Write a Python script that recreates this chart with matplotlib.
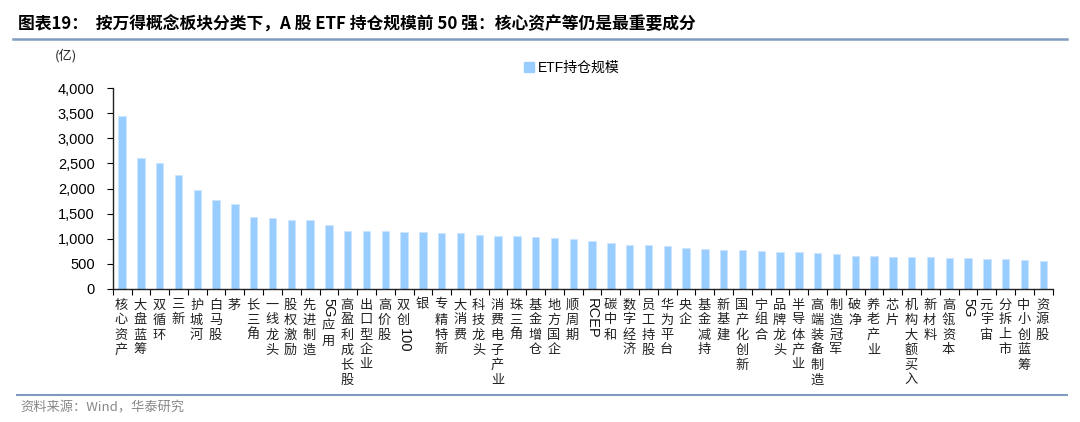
import numpy as np
import matplotlib
matplotlib.use("Agg")
import matplotlib.pyplot as plt
from matplotlib.lines import Line2D
from matplotlib.patches import Patch

plt.rcParams['font.family'] = ['Liberation Sans', 'Noto Sans CJK SC', 'DejaVu Sans']

# data
labels = ["核心资产", "大盘蓝筹", "双循环", "三新", "护城河", "白马股", "茅", "长三角",
          "一线龙头", "股权激励", "先进制造", "5G应用", "高盈利成长股", "出口型企业", "高价股",
          "双创100", "银", "专精特新", "大消费", "科技龙头", "消费电子产业", "珠三角", "基金增仓",
          "地方国企", "顺周期", "RCEP", "碳中和", "数字经济", "员工持股", "华为平台", "央企",
          "基金减持", "新基建", "国产化创新", "宁组合", "品牌龙头", "半导体产业", "高端装备制造",
          "制造冠军", "破净", "养老产业", "芯片", "机构大额买入", "新材料", "高瓴资本", "5G",
          "元宇宙", "分拆上市", "中小创蓝筹", "资源股"]
values = [3450, 2610, 2500, 2260, 1975, 1765, 1685, 1425, 1420, 1380,
          1365, 1272, 1152, 1152, 1146, 1139, 1126, 1119, 1106, 1073,
          1046, 1046, 1027, 1007, 994, 960, 908, 881, 874, 848,
          815, 789, 781, 775, 755, 729, 729, 722, 689, 656,
          649, 636, 636, 630, 616, 610, 602, 602, 570, 556]
series_name = "ETF持仓规模"
yticks = np.arange(0, 4001, 500)

W, H, DPI = 1080, 422, 100
fig = plt.figure(figsize=(W / DPI, H / DPI), dpi=DPI)
ax = fig.add_axes([112.7 / W, 1 - 289 / H, 940 / W, 201 / H])

x = np.arange(len(values))
bars = ax.bar(x, values, width=0.4, color='#99CCFF', edgecolor='#CCE6FF', linewidth=0.6)

ax.set_xlim(-0.5, len(values) - 0.5)
ax.set_ylim(0, 4000)
ax.set_yticks(yticks)
ax.set_yticklabels([f"{v:,}" for v in yticks], fontsize=10.5)
ax.set_xticks(np.arange(len(values) + 1) - 0.5)
ax.set_xticklabels([])
ax.tick_params(axis='y', length=4, width=0.8, pad=9, direction='out')
ax.tick_params(axis='x', length=4, width=0.8, direction='out')
for s in ['top', 'right']:
    ax.spines[s].set_visible(False)
for s in ['left', 'bottom']:
    ax.spines[s].set_linewidth(1.0)
    ax.spines[s].set_color('#222222')

# vertical category labels (CJK stacked, latin runs rotated)
renderer = fig.canvas.get_renderer()
px = 72.0 / DPI
for i, lab in enumerate(labels):
    runs = []
    for ch in lab:
        if ord(ch) < 128 and runs and runs[-1][0] == 'a':
            runs[-1][1] += ch
        else:
            runs.append(['a' if ord(ch) < 128 else 'c', ch])
    top = 8.5
    for kind, txt in runs:
        if kind == 'c':
            ax.annotate(txt, xy=(i, 0), xycoords=('data', 'axes fraction'),
                        xytext=(-0.5, -(top + 7.5) * px), textcoords='offset points',
                        ha='center', va='center', fontsize=9.5,
                        family=['Noto Sans CJK SC'], color='#222222')
            top += 15
        else:
            t = ax.annotate(txt, xy=(i, 0), xycoords=('data', 'axes fraction'),
                            xytext=(0, -top * px), textcoords='offset points',
                            ha='center', va='top', rotation=270, fontsize=10.5,
                            family=['Liberation Sans'], color='#111111')
            top += t.get_window_extent(renderer).height + 1.5

# unit label and legend
fig.text(55 / W, 1 - 56 / H, "(亿)", fontsize=9.5, va='center', ha='left',
         family=['Noto Sans CJK SC'], color='#222222')
fig.legend(handles=[Patch(color='#99CCFF', label=series_name)],
           loc='center left', bbox_to_anchor=(524 / W, 1 - 68 / H),
           frameon=False, fontsize=10, handlelength=0.7, handleheight=0.7,
           handletextpad=0.3, borderpad=0, borderaxespad=0)

# title, rules and source
fig.text(18 / W, 1 - 25 / H,
         "图表19：  按万得概念板块分类下，A 股 ETF 持仓规模前 50 强：核心资产等仍是最重要成分",
         fontsize=12.1, fontweight='bold', va='center', ha='left',
         family=['Noto Sans CJK SC'])
fig.add_artist(Line2D([13 / W, 1067 / W], [1 - 38.5 / H] * 2, transform=fig.transFigure,
                      color='#7F9CC0', linewidth=1.8))
fig.add_artist(Line2D([17 / W, 1067 / W], [1 - 395 / H] * 2, transform=fig.transFigure,
                      color='#7F9CC0', linewidth=1.5))
fig.text(20 / W, 1 - 408 / H, "资料来源：Wind，华泰研究", fontsize=9.5, va='center',
         ha='left', color='#888888', family=['Noto Sans CJK SC'])

fig.savefig("out.png", dpi=DPI)
